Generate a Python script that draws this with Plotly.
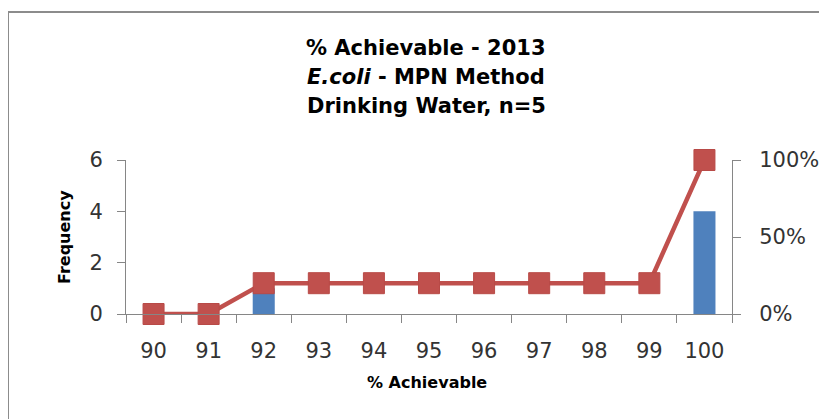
import plotly.graph_objects as go

categories = ["90", "91", "92", "93", "94", "95", "96", "97", "98", "99", "100"]
frequency = [0, 0, 1, 0, 0, 0, 0, 0, 0, 0, 4]
cumulative_pct = [0, 0, 20, 20, 20, 20, 20, 20, 20, 20, 100]
pct_ticks = [0, 50, 100]
pct_labels = ["0%", "50%", "100%"]

FONT = "DejaVu Sans"
OFF = 8  # page body margin
W, H = 827 - OFF, 419 - OFF
L, T = 126 - OFF, 160 - OFF
pw, ph = 606, 154
R, B = W - L - pw, H - T - ph

fig = go.Figure()

fig.add_trace(go.Bar(
    x=categories, y=frequency,
    marker=dict(color="#4F81BD", line=dict(width=0)),
    width=0.4, name="Frequency"))

fig.add_trace(go.Scatter(
    x=categories, y=cumulative_pct, yaxis="y2",
    mode="lines+markers", cliponaxis=False,
    line=dict(color="#C0504D", width=4.5),
    marker=dict(symbol="square", size=21, color="#C0504D",
                line=dict(color="#B84A47", width=1)),
    name="Cumulative %"))

# screenshot pixel -> paper coords
def py(pix):
    return (T + ph - (pix - OFF)) / ph

def px_(pix):
    return (pix - OFF - L) / pw

titles = ["<b>% Achievable - 2013</b>",
          "<b><i>E.coli</i> - MPN Method</b>",
          "<b>Drinking Water, n=5</b>"]
rows = [48, 77, 106]
annotations = []
for t, r in zip(titles, rows):
    annotations.append(dict(text=t, x=px_(426), y=py(r), xref="paper", yref="paper",
                            showarrow=False, xanchor="center", yanchor="middle",
                            font=dict(family=FONT, size=21, color="#000")))
# axis titles
annotations.append(dict(text="<b>% Achievable</b>", x=px_(427), y=py(382),
                        xref="paper", yref="paper", showarrow=False,
                        xanchor="center", yanchor="middle",
                        font=dict(family=FONT, size=16, color="#000")))
annotations.append(dict(text="<b>Frequency</b>", x=px_(64), y=py(237), textangle=-90,
                        xref="paper", yref="paper", showarrow=False,
                        xanchor="center", yanchor="middle",
                        font=dict(family=FONT, size=16, color="#000")))

axis_style = dict(showline=True, linecolor="#868686", linewidth=1,
                  ticks="outside", ticklen=8, tickcolor="#868686",
                  showgrid=False, zeroline=False, automargin=False,
                  tickfont=dict(family=FONT, size=21, color="#333"))

fig.update_layout(
    width=W, height=H,
    margin=dict(l=L, r=R, t=T, b=B),
    paper_bgcolor="white", plot_bgcolor="white",
    showlegend=False,
    font=dict(family=FONT, color="#000"),
    annotations=annotations,
    xaxis=dict(type="category", range=[-0.5, 10.5], tickson="boundaries",
               ticklabelstandoff=18, **axis_style),
    yaxis=dict(range=[0, 6], tickvals=[0, 2, 4, 6], ticklabelstandoff=10,
               **axis_style),
    yaxis2=dict(overlaying="y", side="right", range=[0, 100],
                tickvals=pct_ticks, ticktext=pct_labels, ticklabelstandoff=14,
                **axis_style),
    shapes=[dict(type="rect", xref="paper", yref="paper",
                 x0=px_(8), x1=px_(900), y0=py(500), y1=py(12),
                 line=dict(color="#8C8C8C", width=2), fillcolor="rgba(0,0,0,0)",
                 layer="below")],
)

fig.write_html("out.html")
